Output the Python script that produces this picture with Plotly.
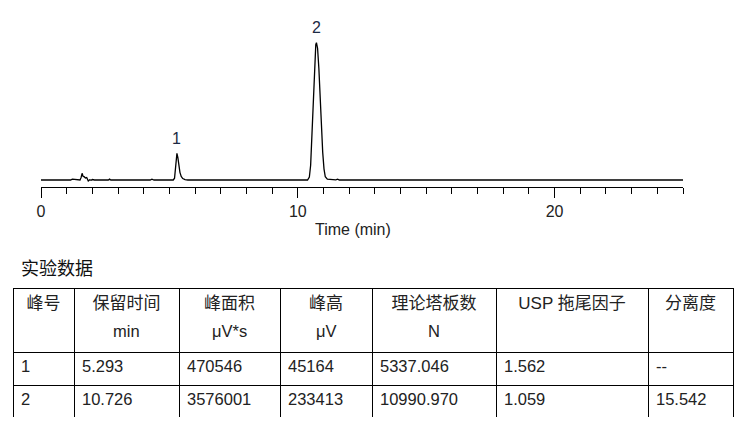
import plotly.graph_objects as go

# ---------------- chromatogram data ----------------
time_min = [0.0, 1.15, 1.22, 1.30, 1.38, 1.52, 1.56, 1.60, 1.64, 1.68, 1.73, 1.78,
            1.84, 1.90, 1.95, 2.00, 2.08, 2.62, 2.67, 2.72, 4.25, 4.32, 4.40,
            5.15, 5.20, 5.23, 5.26, 5.293, 5.33, 5.37, 5.41, 5.46, 5.52, 5.61, 5.72,
            10.38, 10.45, 10.50, 10.55, 10.60, 10.65, 10.70, 10.726, 10.77, 10.82,
            10.87, 10.92, 10.97, 11.02, 11.07, 11.15, 11.30, 11.48, 11.55, 11.62, 25.0]
signal_uv = [0, 0, 1500, 1200, 0, 0, 4000, 11400, 6000, 5600, 3500, 4200,
             -1700, 500, -500, 800, 0, 0, 1500, 0, 0, 1300, 0,
             0, 3000, 15000, 33000, 45164, 38000, 24000, 13000, 6000, 2500, 800, 0,
             0, 5000, 25000, 80000, 150000, 205000, 230000, 233413, 224000, 190000,
             140000, 88000, 47000, 19000, 5500, 1500, 500, 300, 1300, 0, 0]

# ---------------- peak table ----------------
peak_no = ["1", "2"]
retention_time = [5.293, 10.726]
peak_area = [470546, 3576001]
peak_height = [45164, 233413]
plate_count = ["5337.046", "10990.970"]
usp_tailing = ["1.562", "1.059"]
resolution = ["--", "15.542"]

header_labels = ["峰号", "保留时间", "峰面积", "峰高", "理论塔板数", "USP 拖尾因子", "分离度"]
unit_labels = ["", "min", "μV*s", "μV", "N", "", ""]
x_tick_vals = [0, 10, 20]

FONT = "Liberation Sans, Arial, Noto Sans CJK SC, sans-serif"
TXT = "#222222"
col_widths = [61, 105, 101, 92, 124, 152, 85]

fig = go.Figure()

fig.add_trace(go.Scatter(
    x=time_min, y=signal_uv, mode="lines",
    line=dict(color="black", width=1.3), hoverinfo="skip", showlegend=False,
    xaxis="x", yaxis="y"))

for lbl, rt, h in zip(peak_no, retention_time, peak_height):
    fig.add_annotation(x=rt, y=h, xref="x", yref="y", text=lbl, showarrow=False,
                       yshift=15, font=dict(size=16, color="#1c2a44", family=FONT))

fig.add_trace(go.Table(
    domain=dict(x=[0, 1], y=[0, 0.3266]),
    columnwidth=col_widths,
    header=dict(values=header_labels, align="center", height=64,
                line=dict(color="black", width=1), fill=dict(color="white"),
                font=dict(size=17, color=TXT, family=FONT)),
    cells=dict(values=[peak_no, [f"{v:.3f}" for v in retention_time],
                       [str(v) for v in peak_area], [str(v) for v in peak_height],
                       plate_count, usp_tailing, resolution],
               align="left", height=33,
               line=dict(color="black", width=1), fill=dict(color="white"),
               font=dict(size=16.5, color=TXT, family=FONT))))

# second header line (units), centred in each column
total_w = sum(col_widths)
left = 0
for w, u in zip(col_widths, unit_labels):
    if u:
        fig.add_annotation(x=(left + w / 2) / total_w, y=0.2186, xref="paper", yref="paper",
                           text=u, showarrow=False, xanchor="center", yanchor="middle",
                           font=dict(size=16.5, color=TXT, family=FONT))
    left += w

fig.add_annotation(x=0.4722, y=0.4724, xref="paper", yref="paper", text="Time (min)",
                   showarrow=False, xanchor="center", yanchor="middle",
                   font=dict(size=16, color=TXT, family=FONT))
fig.add_annotation(x=0.009, y=0.3795, xref="paper", yref="paper", text="实验数据",
                   showarrow=False, xanchor="left", yanchor="middle",
                   font=dict(size=18, color="#111111", family="Noto Sans CJK SC"))

fig.update_layout(
    width=741, height=426,
    margin=dict(l=13, r=8, t=20, b=8),
    paper_bgcolor="white", plot_bgcolor="white",
    showlegend=False,
    xaxis=dict(domain=[0.03889, 0.93056], range=[0, 25], showgrid=False, zeroline=False,
               showline=True, linecolor="black", linewidth=1,
               ticks="outside", ticklen=10, tickwidth=1, tickcolor="black",
               tickvals=x_tick_vals, tickfont=dict(size=16, color=TXT, family=FONT),
               minor=dict(dtick=1, ticks="outside", ticklen=6, tickwidth=1,
                          tickcolor="black", showgrid=False)),
    yaxis=dict(domain=[0.5804, 1.0], range=[-11900, 272000], visible=False),
)

fig.write_html("out.html", config={"displayModeBar": False},
               post_script="document.body.style.margin='0';document.body.style.overflow='hidden';")
